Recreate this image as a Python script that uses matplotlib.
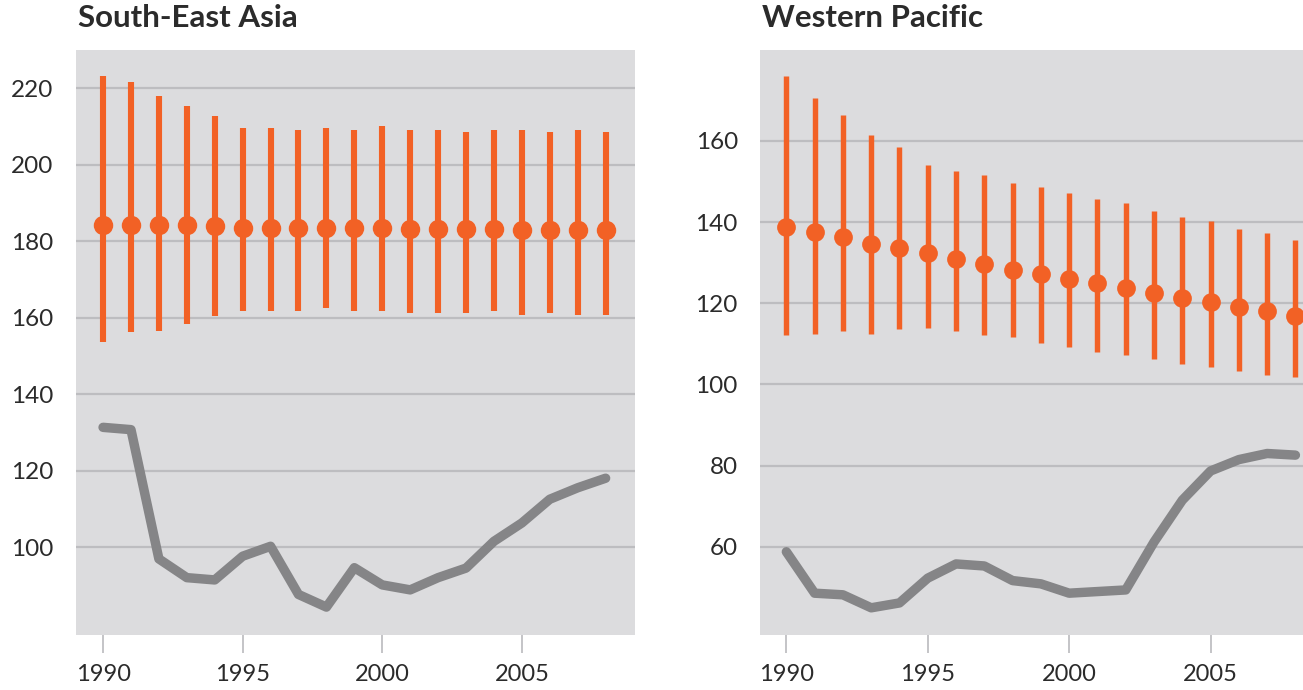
import matplotlib.pyplot as plt
import matplotlib

matplotlib.rcParams['font.family'] = ['Lato', 'DejaVu Sans']

years = list(range(1990, 2009))

# South-East Asia
sea_mid = [184.1, 184.1, 184.1, 184.1, 183.9, 183.4, 183.4, 183.4, 183.4, 183.4,
           183.4, 183.2, 183.2, 183.2, 183.2, 183.0, 183.0, 183.0, 183.0]
sea_hi = [223.1, 221.6, 217.9, 215.3, 212.7, 209.6, 209.6, 209.0, 209.6, 209.0,
          210.0, 209.0, 209.0, 208.5, 209.0, 209.0, 208.5, 209.0, 208.5]
sea_lo = [153.5, 156.2, 156.6, 158.3, 160.3, 161.8, 161.8, 161.8, 162.4, 161.8,
          161.8, 161.3, 161.3, 161.3, 161.8, 160.8, 161.3, 160.8, 160.8]
sea_line = [131.3, 130.7, 96.9, 92.0, 91.4, 97.6, 100.2, 87.6, 84.3, 94.6,
            90.1, 88.8, 92.0, 94.5, 101.5, 106.3, 112.5, 115.5, 118.0]

# Western Pacific
wp_mid = [138.9, 137.5, 136.2, 134.6, 133.6, 132.3, 130.8, 129.7, 128.3, 127.1,
          125.9, 124.9, 123.8, 122.6, 121.3, 120.3, 119.1, 118.0, 116.9]
wp_hi = [175.9, 170.5, 166.4, 161.5, 158.5, 154.0, 152.6, 151.6, 149.6, 148.6,
         147.1, 145.6, 144.6, 142.6, 141.2, 140.2, 138.2, 137.2, 135.7]
wp_lo = [112.1, 112.5, 113.1, 112.5, 113.6, 114.0, 113.1, 112.1, 111.6, 110.1,
         109.2, 108.1, 107.2, 106.2, 105.1, 104.3, 103.3, 102.3, 101.8]
wp_line = [58.8, 48.6, 48.2, 45.0, 46.2, 52.3, 55.8, 55.3, 51.7, 50.9,
           48.6, 49.0, 49.4, 61.2, 71.5, 78.7, 81.5, 83.0, 82.6]

orange = '#f26125'
grey = '#858587'
bg = '#dcdcde'
gridc = '#bdbdc0'
txt = '#2b2b2b'

fig = plt.figure(figsize=(13.03, 6.9), dpi=100)
ax1 = fig.add_axes([0.0583, 0.0797, 0.429, 0.848])
ax2 = fig.add_axes([0.5833, 0.0797, 0.42, 0.848])

panels = [
    (ax1, 'South-East Asia', sea_mid, sea_lo, sea_hi, sea_line,
     (77, 230), [100, 120, 140, 160, 180, 200, 220], (1989.03, 2009.05), 4.4, 14),
    (ax2, 'Western Pacific', wp_mid, wp_lo, wp_hi, wp_line,
     (38.3, 182.4), [60, 80, 100, 120, 140, 160], (1989.07, 2008.42), 3.9, 13.5),
]

for ax, title, mid, lo, hi, line, ylim, yt, xlim, bw, ms in panels:
    ax.set_facecolor(bg)
    for s in ax.spines.values():
        s.set_visible(False)
    ax.set_ylim(*ylim)
    ax.set_xlim(*xlim)
    ax.set_yticks(yt)
    ax.set_xticks([1990, 1995, 2000, 2005])
    ax.grid(axis='y', color=gridc, lw=1.6)
    ax.set_axisbelow(True)
    ax.tick_params(axis='y', length=0, pad=16, labelsize=17.5, labelcolor=txt)
    ax.tick_params(axis='x', length=13, width=1.4, color='#c4c4c7',
                   pad=8, labelsize=17, labelcolor=txt)
    ax.plot(years, line, color=grey, lw=6.8, solid_joinstyle='round',
            solid_capstyle='round', zorder=3)
    ax.vlines(years, lo, hi, color=orange, lw=bw, zorder=4)
    ax.plot(years, mid, 'o', color=orange, ms=ms, mec='none', zorder=5)
    ax.text(0.003, 1.03, title, transform=ax.transAxes, fontsize=22.5,
            fontweight='bold', color=txt, ha='left', va='bottom')

fig.savefig('out.png', dpi=100, facecolor='white')
